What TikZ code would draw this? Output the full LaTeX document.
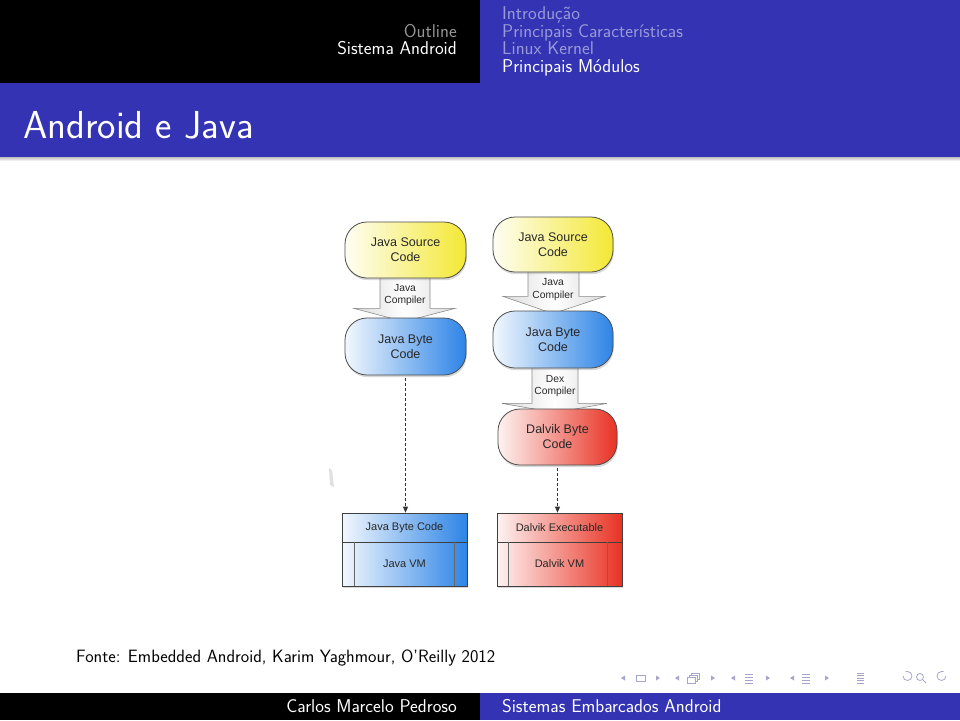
\documentclass[tikz,border=0pt]{standalone}
\usepackage{fontspec}
\newfontfamily\hv{Liberation Sans}
\usetikzlibrary{calc,arrows.meta,shadows}
\definecolor{bblue}{RGB}{51,51,179}
\definecolor{fadeb}{RGB}{153,153,217}
\definecolor{fadek}{RGB}{150,150,150}
\definecolor{ylw}{RGB}{243,232,52}
\definecolor{blu}{RGB}{45,132,230}
\definecolor{rd}{RGB}{232,50,35}
\definecolor{txt}{RGB}{40,40,40}
\definecolor{navc}{RGB}{165,165,205}
\pgfdeclarelayer{back}
\pgfsetlayers{back,main}
\begin{document}
\begin{tikzpicture}[x=1pt,y=-1pt,
  stadium/.style={draw=black!70, line width=0.8pt, rounded corners=22pt,
    minimum width=121pt, minimum height=56pt, inner sep=0pt, align=center,
    text=txt, font=\hv\fontsize{12.5}{15}\selectfont,
    drop shadow={shadow xshift=0.8pt, shadow yshift=-2.2pt, opacity=0.3}},
  yfill/.style={left color=ylw!6, right color=ylw},
  bfill/.style={left color=blu!6, right color=blu},
  rfill/.style={left color=rd!6, right color=rd},
  barrow/.style={draw=black!45, line width=0.6pt, left color=black!14,
    right color=black!14, middle color=white},
  alabel/.style={align=center, text=txt, inner sep=0pt,
    font=\hv\fontsize{10.3}{12.5}\selectfont},
  vmbox/.style={draw=black!75, line width=0.8pt, minimum width=125pt,
    inner sep=0pt, text=txt, font=\hv\fontsize{11}{12}\selectfont,
    drop shadow={shadow xshift=0.8pt, shadow yshift=-2pt, opacity=0.3}},
  inner/.style={draw=black!60, line width=0.7pt},
  dasharrow/.style={draw=black!80, line width=0.8pt, dash pattern=on 3pt off 2pt,
    -{Triangle[length=6pt,width=5pt]}},
  hdr/.style={inner sep=0pt, font=\sffamily\fontsize{18.5}{20}\selectfont},
  nav/.style={fill=navc, draw=none},
  navl/.style={draw=navc, line width=0.8pt}]
\useasboundingbox (0,0) rectangle (960,720);
\begin{pgfonlayer}{back}
\fill[white] (0,0) rectangle (960,720);
\end{pgfonlayer}
% header
\fill[black] (0,0) rectangle (480,83);
\fill[bblue] (480,0) rectangle (960,83);
\fill[bblue] (0,83) rectangle (960,157);
\shade[top color=black!25, bottom color=white] (0,157) rectangle (960,161);
\node[hdr, anchor=base east, text=fadek] (h1) at (457,37) {Outline};
\node[hdr, anchor=base east, text=white] (h2) at (457,54) {Sistema Android};
\node[hdr, anchor=base west, text=fadeb] (h3) at (502,19) {Introdução};
\node[hdr, anchor=base west, text=fadeb] (h4) at (502,37) {Principais Características};
\node[hdr, anchor=base west, text=fadeb] (h5) at (502,54) {Linux Kernel};
\node[hdr, anchor=base west, text=white] (h6) at (502,72) {Principais Módulos};
\node[inner sep=0pt, anchor=base west, text=white,
  font=\sffamily\fontsize{39}{42}\selectfont] (title) at (23,138) {Android e Java};
% footer
\fill[black] (0,693) rectangle (480,720);
\fill[bblue] (480,693) rectangle (960,720);
\node[hdr, anchor=base east, text=white] (f1) at (457,712) {Carlos Marcelo Pedroso};
\node[hdr, anchor=base west, text=white] (f2) at (502,712) {Sistemas Embarcados Android};
\node[inner sep=0pt, anchor=base west, text=black,
  font=\sffamily\fontsize{17.85}{19}\selectfont] (fonte) at (76,662)
  {Fonte: Embedded Android, Karim Yaghmour, O'Reilly 2012};
% navigation symbols
\fill[nav] (621,678) -- (625,675.5) -- (625,680.5) -- cycle;
\draw[navl] (636,675) rectangle (645,681);
\fill[nav] (660,678) -- (656,675.5) -- (656,680.5) -- cycle;
\fill[nav] (675,678) -- (679,675.5) -- (679,680.5) -- cycle;
\draw[navl] (687,677) rectangle (695,683);
\draw[navl] (689,677) -- (689,675) -- (697,675) -- (697,681) -- (695,681);
\draw[navl] (691,675) -- (691,673) -- (699,673) -- (699,679) -- (697,679);
\fill[nav] (715,678) -- (711,675.5) -- (711,680.5) -- cycle;
\fill[nav] (731,678) -- (735,675.5) -- (735,680.5) -- cycle;
\foreach \yy in {674,677,680,683} \draw[navl, line width=0.6pt] (745,\yy) -- (753,\yy);
\fill[nav] (770,678) -- (766,675.5) -- (766,680.5) -- cycle;
\fill[nav] (790,678) -- (794,675.5) -- (794,680.5) -- cycle;
\foreach \yy in {674,677,680,683} \draw[navl, line width=0.6pt] (802,\yy) -- (810,\yy);
\fill[nav] (829,678) -- (825,675.5) -- (825,680.5) -- cycle;
\foreach \yy in {673,675.5,678,680.5,683} \draw[navl, line width=0.6pt] (857,\yy) -- (864,\yy);
\draw[navl] (903,676) arc[start angle=180, end angle=-90, radius=4.5] -- ++(-2,0);
\draw[navl] (920,677) circle[radius=3.5];
\draw[navl] (923,680) -- (926,683);
\draw[navl] (946,676) arc[start angle=0, end angle=270, radius=4.5] -- ++(2,0);
% faint artifact
\fill[black!12] (329,468) -- (332,470) -- (334,487) -- (330,485) -- cycle;
% diagram nodes
\node[stadium, yfill] (src1) at (405.5,250) {Java Source\\Code};
\node[stadium, bfill, minimum height=57pt] (jbc1) at (405.5,346.5) {Java Byte\\Code};
\node[stadium, yfill, minimum width=120pt, minimum height=55pt] (src2) at (553,244.5) {Java Source\\Code};
\node[stadium, bfill, minimum width=120pt, minimum height=57pt] (jbc2) at (553,339.5) {Java Byte\\Code};
\node[stadium, rfill, minimum width=119pt, minimum height=56pt] (dbc) at (557.5,437) {Dalvik Byte\\Code};
\node[vmbox, bfill, minimum height=29pt] (box1top) at (404.5,527.5) {Java Byte Code};
\node[vmbox, bfill, minimum height=44pt] (box1bot) at (404.5,564) {Java VM};
\node[vmbox, rfill, minimum height=29pt] (box2top) at (559.5,527.5) {Dalvik Executable};
\node[vmbox, rfill, minimum height=44pt] (box2bot) at (559.5,564) {Dalvik VM};
\draw[inner] ($(box1bot.north west)+(13,0)$) -- ($(box1bot.south west)+(13,0)$);
\draw[inner] ($(box1bot.north east)+(-13,0)$) -- ($(box1bot.south east)+(-13,0)$);
\draw[inner] ($(box2bot.north west)+(12,0)$) -- ($(box2bot.south west)+(12,0)$);
\draw[inner] ($(box2bot.north east)+(-15,0)$) -- ($(box2bot.south east)+(-15,0)$);
% block arrows (behind)
\begin{pgfonlayer}{back}
\draw[barrow] ($(src1.south)+(-25.5,-6)$) -- ($(src1.south)+(24.5,-6)$)
  -- ($(src1.south)+(24.5,30)$) -- ($(src1.south)+(49.5,30)$)
  -- ($(jbc1.north)+(-1.5,4)$) -- ($(src1.south)+(-51.5,30)$)
  -- ($(src1.south)+(-25.5,30)$) -- cycle;
\draw[barrow] ($(src2.south)+(-25,-4)$) -- ($(src2.south)+(26,-4)$)
  -- ($(src2.south)+(26,24)$) -- ($(src2.south)+(52,24)$)
  -- ($(jbc2.north)+(0,3)$) -- ($(src2.south)+(-50,24)$)
  -- ($(src2.south)+(-25,24)$) -- cycle;
\draw[barrow] ($(jbc2.south)+(-21,-4)$) -- ($(jbc2.south)+(25,-4)$)
  -- ($(jbc2.south)+(25,35)$) -- ($(jbc2.south)+(54,35)$)
  -- ($(dbc.north)+(-2.5,4)$) -- ($(jbc2.south)+(-51,35)$)
  -- ($(jbc2.south)+(-21,35)$) -- cycle;
\end{pgfonlayer}
\node[alabel] (lab1) at (405,295) {Java\\Compiler};
\node[alabel] (lab2) at (553,289.5) {Java\\Compiler};
\node[alabel] (lab3) at (555,386) {Dex\\Compiler};
% dashed connectors
\draw[dasharrow] ($(jbc1.south)+(0,3)$) -- (jbc1.south |- box1top.north);
\draw[dasharrow] ($(dbc.south)+(0,3)$) -- (dbc.south |- box2top.north);
\end{tikzpicture}
\end{document}
